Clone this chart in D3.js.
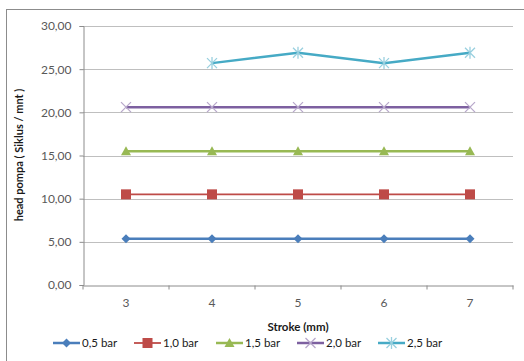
<!DOCTYPE html>
<html><head><meta charset="utf-8">
<script src="https://cdn.jsdelivr.net/npm/d3@7"></script>
<style>body{margin:0;background:#fff}svg{display:block;font-family:Lato,"Open Sans",sans-serif}</style>
</head><body><svg id="c" width="524" height="361"></svg>
<script>
const categories = ["3","4","5","6","7"];
const seriesNames = ["0,5 bar","1,0 bar","1,5 bar","2,0 bar","2,5 bar"];
const s05 = [5.35,5.35,5.35,5.35,5.35];
const s10 = [10.5,10.5,10.5,10.5,10.5];
const s15 = [15.5,15.5,15.5,15.5,15.5];
const s20 = [20.6,20.6,20.6,20.6,20.6];
const s25 = [null,25.7,26.9,25.7,26.9];
const yTicks = [0,5,10,15,20,25,30];
const colors = ["#4A7EBB","#BE4B48","#98B954","#7D60A0","#46AAC5"];
const markers = ["diamond","square","triangle","x","star"];
const widths = [2.5,1.8,2.5,2.5,2.5];
const values = [s05,s10,s15,s20,s25];

const svg = d3.select("#c");
svg.append("rect").attr("x",6.5).attr("y",9.5).attr("width",600).attr("height",400)
  .attr("fill","none").attr("stroke","#8c8c8c");

const L=83,R=513,T=26,B=285;
const x = d3.scaleBand().domain(categories).range([L,R]);
const y = d3.scaleLinear().domain([0,30]).range([B,T]);

// gridlines
svg.append("g").selectAll("line").data(yTicks.filter(d=>d>0)).join("line")
  .attr("x1",L).attr("x2",R).attr("y1",d=>Math.round(y(d))+0.5).attr("y2",d=>Math.round(y(d))+0.5)
  .attr("stroke","#bfbfbf");

const fmt = d=>d3.format(".2f")(d).replace(".",",");
const ya = svg.append("g").attr("transform",`translate(${L+0.5},0)`)
  .call(d3.axisLeft(y).tickValues(yTicks).tickFormat(fmt).tickSize(4).tickPadding(8));
ya.select(".domain").attr("stroke","#8c8c8c");
ya.selectAll(".tick line").attr("stroke","#8c8c8c");
ya.selectAll("text").attr("fill","#595959").style("font-size","12px").style("font-family","Lato");

const xa = svg.append("g").attr("transform",`translate(0,${B+0.5})`)
  .call(d3.axisBottom(x).tickSize(0).tickPadding(13));
xa.select(".domain").attr("stroke","#8c8c8c");
xa.selectAll("text").attr("fill","#595959").style("font-size","12px").style("font-family","Lato");
// category boundary ticks
xa.selectAll("line.sep").data(d3.range(categories.length+1)).join("line").attr("class","sep")
  .attr("x1",i=>L+i*x.bandwidth()).attr("x2",i=>L+i*x.bandwidth()).attr("y1",0).attr("y2",4)
  .attr("stroke","#8c8c8c");

// titles
svg.append("text").attr("x",298).attr("y",331).attr("text-anchor","middle")
  .style("font-size","11.5px").style("font-weight","bold").attr("fill","#1a1a1a").text("Stroke (mm)");
svg.append("text").attr("transform","translate(23,155) rotate(-90)").attr("text-anchor","middle")
  .style("font-size","11px").style("font-weight","bold").attr("fill","#1a1a1a").text("head pompa  ( Siklus / mnt )");

function drawMarker(g, type, color, cx, cy){
  if(type==="diamond"){
    g.append("path").attr("d",`M${cx},${cy-4.5}L${cx+4.5},${cy}L${cx},${cy+4.5}L${cx-4.5},${cy}Z`).attr("fill",color);
  } else if(type==="square"){
    g.append("rect").attr("x",cx-5).attr("y",cy-5).attr("width",10).attr("height",10).attr("fill",color);
  } else if(type==="triangle"){
    g.append("path").attr("d",`M${cx},${cy-5}L${cx+5},${cy+4}L${cx-5},${cy+4}Z`).attr("fill",color);
  } else if(type==="x"){
    g.append("path").attr("d",`M${cx-5},${cy-5}L${cx+5},${cy+5}M${cx-5},${cy+5}L${cx+5},${cy-5}`)
      .attr("stroke",d3.interpolateRgb(color,"#fff")(0.45)).attr("stroke-width",1.3);
  } else if(type==="star"){
    g.append("path").attr("d",`M${cx-5},${cy-5}L${cx+5},${cy+5}M${cx-5},${cy+5}L${cx+5},${cy-5}M${cx},${cy-6}L${cx},${cy+6}`)
      .attr("stroke",d3.interpolateRgb(color,"#fff")(0.45)).attr("stroke-width",1.3);
  }
}

const line = d3.line().defined(d=>d.v!=null).x(d=>x(d.c)+x.bandwidth()/2).y(d=>y(d.v));
values.forEach((vals,i)=>{
  const data = vals.map((v,j)=>({c:categories[j],v}));
  const g = svg.append("g");
  g.append("path").datum(data).attr("d",line).attr("fill","none")
    .attr("stroke",colors[i]).attr("stroke-width",widths[i]);
  data.filter(d=>d.v!=null).forEach(d=>drawMarker(g,markers[i],colors[i],x(d.c)+x.bandwidth()/2,y(d.v)));
});

// legend
const legX = [53,134,216,297,378];
const legY = 343;
seriesNames.forEach((n,i)=>{
  const g = svg.append("g");
  g.append("line").attr("x1",legX[i]).attr("x2",legX[i]+27).attr("y1",legY).attr("y2",legY)
    .attr("stroke",colors[i]).attr("stroke-width",widths[i]);
  drawMarker(g,markers[i],colors[i],legX[i]+13.5,legY);
  g.append("text").attr("x",legX[i]+29).attr("y",legY+4).style("font-size","11.5px")
    .attr("fill","#1a1a1a").text(n);
});
</script></body></html>
